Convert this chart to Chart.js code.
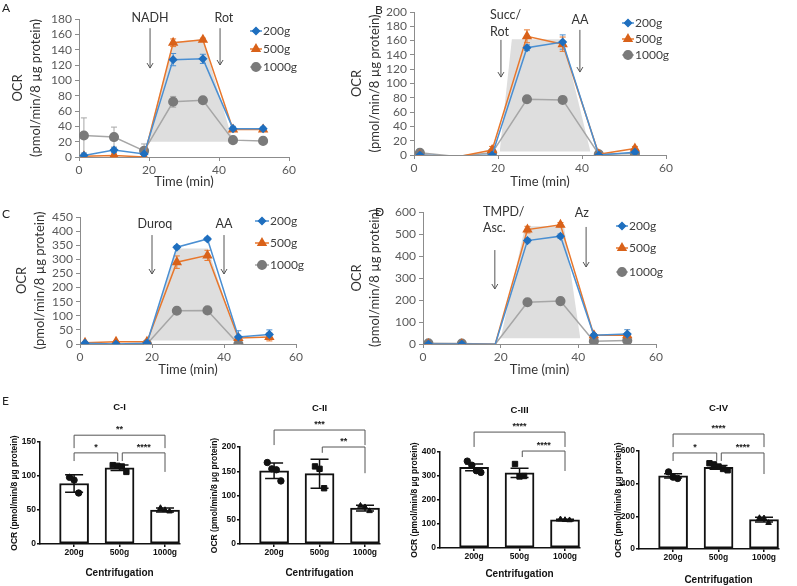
<!DOCTYPE html>
<html>
<head>
<meta charset="utf-8">
<script src="https://cdn.jsdelivr.net/npm/chart.js@4.4.0/dist/chart.umd.min.js"></script>
<style>
    body { margin: 0; background: #fff; }
    #wrap { position: relative; width: 797px; height: 586px; overflow: hidden; }
    canvas { position: absolute; }
    .tag { position: absolute; font: 12px Lato, sans-serif; color: #222; }
</style>
</head>
<body>
<div id="wrap">
    <canvas id="chartA" width="340" height="190" style="left:0;top:0"></canvas>
    <canvas id="chartB" width="457" height="190" style="left:340px;top:0"></canvas>
    <canvas id="chartC" width="340" height="190" style="left:0;top:190px"></canvas>
    <canvas id="chartD" width="457" height="190" style="left:340px;top:190px"></canvas>
    <canvas id="chartE1" width="200" height="201" style="left:0;top:385px"></canvas>
    <canvas id="chartE2" width="200" height="201" style="left:200px;top:385px"></canvas>
    <canvas id="chartE3" width="197" height="201" style="left:400px;top:385px"></canvas>
    <canvas id="chartE4" width="200" height="201" style="left:597px;top:385px"></canvas>
    <div class="tag" style="left:2px;top:0">A</div>
    <div class="tag" style="left:375px;top:2px">B</div>
    <div class="tag" style="left:2px;top:206px">C</div>
    <div class="tag" style="left:375px;top:204px">D</div>
    <div class="tag" style="left:2px;top:393px">E</div>
</div>
<script>
// measurement times (min) and groups
var times = [1.4, 10, 18.6, 26.9, 35.4, 44, 52.6];
var groups = ["200g", "500g", "1000g"];

// A - NADH / Rot
var nadh200 = [2, 9, 4, 127, 128, 37, 37];
var nadh500 = [1, 2, 0, 149, 153, 36, 36];
var nadh1000 = [28, 26, 8, 72, 74, 22, 21];
var nadh200Err = [3, 3, 3, 8, 6, 3, 2];
var nadh500Err = [2, 2, 1, 5, 2, 2, 2];
var nadh1000Err = [23, 13, 9, 7, 3, 4, 3];
var nadhShadeX = [19.5, 26.9, 35.4, 44];
var nadhShadeY = [20, 150, 154, 20];

// B - Succ/Rot / AA
var succ200 = [0, -2, 0, 150, 158, 0, 4];
var succ500 = [0, -3, 7, 166, 155, 1, 9];
var succ1000 = [3, -2, 3, 78, 77, 1, 2];
var succ200Err = [1, 0, 2, 4, 10, 1, 2];
var succ500Err = [1, 0, 5, 9, 10, 1, 3];
var succ1000Err = [2, 0, 2, 2, 2, 1, 1];
var succShadeX = [20.4, 23.3, 35.5, 42];
var succShadeY = [5, 162, 162, 5];

// C - Duroq / AA
var duroq200 = [3, 0, 3, 343, 372, 25, 34];
var duroq500 = [4, 8, 8, 290, 314, 21, 25];
var duroq1000 = [null, null, 0, 118, 119, 0, null];
var duroq200Err = [2, 2, 2, 6, 6, 22, 16];
var duroq500Err = [2, 2, 2, 22, 18, 4, 14];
var duroq1000Err = [0, 0, 2, 6, 6, 2, 0];
var duroqShadeX = [19, 26.9, 35.5, 44];
var duroqShadeY = [12, 338, 338, 12];

// D - TMPD/Asc. / Az
var tmpd200 = [0, 0, -1, 470, 490, 40, 45];
var tmpd500 = [0, 0, -1, 520, 542, 40, 40];
var tmpd1000 = [3, 2, -1, 190, 195, 13, 16];
var tmpd200Err = [2, 2, 0, 10, 10, 8, 20];
var tmpd500Err = [2, 2, 0, 15, 10, 5, 10];
var tmpd1000Err = [2, 2, 0, 8, 8, 4, 4];
var tmpdShadeX = [20, 26.3, 36.3, 40.5];
var tmpdShadeY = [26, 535, 535, 26];

// E - complex activities (mean, SD, replicates)
var ciMean = [89, 112, 50];
var ciSd = [13, 4, 3];
var ci200 = [98, 94, 75];
var ci500 = [116, 115, 114, 106];
var ci1000 = [53, 50, 48];

var ciiMean = [151, 145, 74];
var ciiSd = [16, 30, 6];
var cii200 = [168, 155, 153, 130];
var cii500 = [160, 155, 115];
var cii1000 = [79, 76, 68];

var ciiiMean = [336, 313, 117];
var ciiiSd = [14, 19, 3];
var ciii200 = [362, 345, 322, 315];
var ciii500 = [350, 298, 300];
var ciii1000 = [120, 117, 116];

var civMean = [448, 500, 180];
var civSd = [13, 11, 14];
var civ200 = [472, 440, 432];
var civ500 = [525, 518, 505, 490, 482];
var civ1000 = [190, 188, 160];

// significance brackets: [from, to, y, left end, right end, label]
var ciBrackets = [[0, 2, 160, 141, 141, "**"], [0, 1, 134, 122, 122, "*"], [1, 2, 134, 122, 106, "****"]];
var ciiBrackets = [[0, 2, 235, 204, 204, "***"], [1, 2, 200, 188, 146, "**"]];
var ciiiBrackets = [[0, 2, 483, 421, 421, "****"], [1, 2, 404, 379, 321, "****"]];
var civBrackets = [[0, 2, 704, 624, 624, "****"], [0, 1, 588, 539, 539, "*"], [1, 2, 588, 539, 459, "****"]];

var lineColors = ["#4A8FD2", "#E8772C", "#A6A6A6"];
var markColors = ["#1F6FBF", "#D9621A", "#7A7A7A"];
var markStyles = ["rectRot", "triangle", "circle"];
var markSizes = [3.5, 4.5, 4.3];
var FONT = "Lato, 'Liberation Sans', sans-serif";
var BARFONT = "'Liberation Sans', Arial, sans-serif";

var errorBars = {
    id: "errorBars",
    afterDatasetDraw: function (chart, args) {
        var p = chart.config.options.panel;
        if (args.index !== 3) return;
        var ctx = chart.ctx, y = chart.scales.y;
        ctx.save();
        ctx.lineWidth = 1;
        p.errs.forEach(function (errs, k) {
            var meta = chart.getDatasetMeta(k);
            ctx.strokeStyle = lineColors[k];
            errs.forEach(function (e, i) {
                var v = p.values[k][i];
                if (v == null || !e) return;
                var x = meta.data[i].x;
                var top = y.getPixelForValue(v + e), bot = y.getPixelForValue(Math.max(0, v - e));
                ctx.beginPath();
                ctx.moveTo(x, top); ctx.lineTo(x, bot);
                ctx.moveTo(x - 3, top); ctx.lineTo(x + 3, top);
                ctx.moveTo(x - 3, bot); ctx.lineTo(x + 3, bot);
                ctx.stroke();
            });
        });
        ctx.restore();
    }
};

var lineDeco = {
    id: "lineDeco",
    afterDraw: function (chart) {
        var p = chart.config.options.panel;
        var ctx = chart.ctx, xs = chart.scales.x, ys = chart.scales.y;
        ctx.save();
        // injection annotations
        ctx.fillStyle = "#333";
        ctx.strokeStyle = "#555";
        ctx.lineWidth = 1;
        ctx.font = "12.5px " + FONT;
        ctx.textBaseline = "middle";
        p.notes.forEach(function (n) {
            ctx.textAlign = n.align || "center";
            n.text.forEach(function (t, i) {
                ctx.fillText(t, xs.getPixelForValue(n.tx), ys.getPixelForValue(n.ty[i]));
            });
            var ax = xs.getPixelForValue(n.ax);
            var a0 = ys.getPixelForValue(n.a0), a1 = ys.getPixelForValue(n.a1);
            ctx.beginPath();
            ctx.moveTo(ax, a0); ctx.lineTo(ax, a1);
            ctx.moveTo(ax - 3, a1 - 5); ctx.lineTo(ax, a1); ctx.lineTo(ax + 3, a1 - 5);
            ctx.stroke();
        });
        // legend
        var lg = p.legend;
        ctx.font = "12px " + FONT;
        ctx.textAlign = "left";
        groups.forEach(function (g, k) {
            var yy = lg.ys[k];
            ctx.strokeStyle = lineColors[k];
            ctx.lineWidth = 1.5;
            ctx.beginPath();
            ctx.moveTo(lg.x1, yy); ctx.lineTo(lg.x2, yy);
            ctx.stroke();
            ctx.fillStyle = markColors[k];
            ctx.strokeStyle = markColors[k];
            Chart.helpers.drawPoint(ctx, {pointStyle: markStyles[k], radius: markSizes[k], borderWidth: 1}, (lg.x1 + lg.x2) / 2, yy);
            ctx.fillStyle = "#404040";
            ctx.fillText(g, lg.x2 + 1, yy);
        });
        ctx.restore();
    }
};

function makeLineChart(p) {
    var datasets = p.values.map(function (vals, k) {
        return {
            label: groups[k],
            data: times.map(function (t, i) { return {x: t, y: vals[i]}; }),
            borderColor: lineColors[k],
            backgroundColor: markColors[k],
            pointBorderColor: markColors[k],
            pointBackgroundColor: markColors[k],
            pointStyle: markStyles[k],
            pointRadius: function (c) { return (c.raw && c.raw.y < 0) ? 0 : markSizes[k]; },
            borderWidth: 1.5,
            order: 1
        };
    });
    datasets.push({
        label: "shade",
        data: p.shadeX.map(function (x, i) { return {x: x, y: p.shadeY[i]}; }),
        fill: {value: p.shadeY[0]},
        backgroundColor: "#DEDEDE",
        borderWidth: 0,
        pointRadius: 0,
        order: 10
    });
    var tickFont = {family: FONT, size: 12};
    new Chart(document.getElementById(p.id), {
        type: "line",
        data: {datasets: datasets},
        plugins: [errorBars, lineDeco],
        options: {
            panel: p,
            responsive: false,
            animation: false,
            layout: {padding: {top: p.top, right: p.right, left: 0, bottom: 0}},
            plugins: {legend: {display: false}, tooltip: {enabled: false}},
            scales: {
                x: {
                    type: "linear", min: 0, max: 60,
                    ticks: {stepSize: 20, font: tickFont, color: "#595959", padding: 2, autoSkip: false},
                    grid: {drawOnChartArea: false, drawTicks: true, tickLength: 4, color: "#8C8C8C"},
                    border: {color: "#8C8C8C"},
                    title: {display: true, text: "Time (min)", font: {family: FONT, size: 13}, color: "#333", padding: {top: 0, bottom: p.xtPad}},
                    afterFit: function (s) { s.height = p.xh; }
                },
                y: {
                    min: 0, max: p.max,
                    ticks: {stepSize: p.step, font: tickFont, color: "#595959", padding: 3, autoSkip: false},
                    grid: {drawOnChartArea: false, drawTicks: true, tickLength: 4, color: "#8C8C8C"},
                    border: {color: "#8C8C8C"},
                    title: {display: true, text: ["OCR", "(pmol/min/8 \u00b5g protein)"], font: {family: FONT, size: 13, lineHeight: 1.4}, color: "#333", padding: {top: p.ytPad, bottom: 0}},
                    afterFit: function (s) { s.width = p.left; }
                }
            }
        }
    });
}

makeLineChart({
    id: "chartA", values: [nadh200, nadh500, nadh1000], errs: [nadh200Err, nadh500Err, nadh1000Err],
    shadeX: nadhShadeX, shadeY: nadhShadeY, max: 180, step: 20,
    left: 79, top: 19, right: 51, xh: 33, xtPad: 0, ytPad: 9,
    legend: {x1: 250, x2: 262, ys: [31, 49, 67]},
    notes: [
        {text: ["NADH"], tx: 20.3, ty: [181], ax: 20.3, a0: 168, a1: 116},
        {text: ["Rot"], tx: 41.4, ty: [181], ax: 40.3, a0: 168, a1: 120}
    ]
});
makeLineChart({
    id: "chartB", values: [succ200, succ500, succ1000], errs: [succ200Err, succ500Err, succ1000Err],
    shadeX: succShadeX, shadeY: succShadeY, max: 200, step: 20,
    left: 74, top: 12, right: 131, xh: 35, xtPad: 0, ytPad: 8,
    legend: {x1: 282, x2: 294, ys: [23, 39, 55]},
    notes: [
        {text: ["Succ/", "Rot"], tx: 18.1, ty: [196, 172], align: "left", ax: 20.7, a0: 161, a1: 109},
        {text: ["AA"], tx: 39.5, ty: [189], ax: 39.5, a0: 175, a1: 116}
    ]
});
makeLineChart({
    id: "chartC", values: [duroq200, duroq500, duroq1000], errs: [duroq200Err, duroq500Err, duroq1000Err],
    shadeX: duroqShadeX, shadeY: duroqShadeY, max: 450, step: 50,
    left: 80, top: 27, right: 44, xh: 36, xtPad: 2, ytPad: 13,
    legend: {x1: 255, x2: 269, ys: [31, 53, 75]},
    notes: [
        {text: ["Duroq"], tx: 20.8, ty: [425], ax: 20, a0: 386, a1: 248},
        {text: ["AA"], tx: 40, ty: [425], ax: 40, a0: 386, a1: 248}
    ]
});
makeLineChart({
    id: "chartD", values: [tmpd200, tmpd500, tmpd1000], errs: [tmpd200Err, tmpd500Err, tmpd1000Err],
    shadeX: tmpdShadeX, shadeY: tmpdShadeY, max: 600, step: 100,
    left: 83, top: 22, right: 141, xh: 36, xtPad: 2, ytPad: 8,
    legend: {x1: 276, x2: 288, ys: [36, 58, 82]},
    notes: [
        {text: ["TMPD/", "Asc."], tx: 15.45, ty: [600, 527], align: "left", ax: 18.5, a0: 427, a1: 250},
        {text: ["Az"], tx: 40.9, ty: [595], ax: 42, a0: 532, a1: 350}
    ]
});

var barShapes = ["circle", "rect", "triangle"];

var barDeco = {
    id: "barDeco",
    afterDatasetsDraw: function (chart) {
        var p = chart.config.options.panel;
        var ctx = chart.ctx, xs = chart.scales.x, ys = chart.scales.y;
        ctx.save();
        // error bars (mean +/- SD)
        ctx.strokeStyle = "#111";
        ctx.lineWidth = 1.5;
        p.mean.forEach(function (m, i) {
            var x = xs.getPixelForValue(i);
            var top = ys.getPixelForValue(m + p.sd[i]), bot = ys.getPixelForValue(m - p.sd[i]);
            ctx.beginPath();
            ctx.moveTo(x, top); ctx.lineTo(x, bot);
            ctx.moveTo(x - 9, top); ctx.lineTo(x + 9, top);
            ctx.moveTo(x - 9, bot); ctx.lineTo(x + 9, bot);
            ctx.stroke();
        });
        // significance brackets
        ctx.strokeStyle = "#555";
        ctx.lineWidth = 1;
        ctx.fillStyle = "#222";
        ctx.font = "bold 9px " + BARFONT;
        ctx.textAlign = "center";
        ctx.textBaseline = "bottom";
        p.brackets.forEach(function (b) {
            var a = b[0], c = b[1];
            if (c - a === 1) {
                if (a === 1) a += 0.06;
                if (c === 1) c -= 0.04;
            }
            var x0 = xs.getPixelForValue(a), x1 = xs.getPixelForValue(c);
            var y = ys.getPixelForValue(b[2]);
            ctx.beginPath();
            ctx.moveTo(x0, ys.getPixelForValue(b[3]));
            ctx.lineTo(x0, y); ctx.lineTo(x1, y);
            ctx.lineTo(x1, ys.getPixelForValue(b[4]));
            ctx.stroke();
            ctx.fillText(b[5], (x0 + x1) / 2, y - 1);
        });
        // panel title and x-axis title
        ctx.fillStyle = "#111";
        ctx.textBaseline = "middle";
        ctx.font = "bold 9.5px " + BARFONT;
        ctx.fillText(p.title, xs.getPixelForValue(1), p.titleY);
        ctx.font = "bold 10px " + BARFONT;
        ctx.fillText("Centrifugation", xs.getPixelForValue(1), p.xlabY);
        ctx.restore();
    }
};

function makeBarChart(p) {
    var datasets = [{
        type: "bar",
        data: p.mean.map(function (m, i) { return {x: i, y: m}; }),
        backgroundColor: "#fff",
        borderColor: "#111",
        borderWidth: 2,
        borderSkipped: false,
        barThickness: 29,
        order: 3
    }];
    p.points.forEach(function (vals, i) {
        datasets.push({
            type: "scatter",
            data: vals.map(function (v, j) { return {x: i + (j - (vals.length - 1) / 2) * 0.1, y: v}; }),
            pointStyle: barShapes[i],
            pointRadius: barShapes[i] === "rect" ? 3.8 : 3.2,
            backgroundColor: "#111",
            borderColor: "#111",
            order: 1
        });
    });
    var tickFont = {family: BARFONT, size: 8.5, weight: "bold"};
    new Chart(document.getElementById(p.id), {
        type: "bar",
        data: {datasets: datasets},
        plugins: [barDeco],
        options: {
            panel: p,
            responsive: false,
            animation: false,
            layout: {padding: {top: p.top, right: p.right, left: 0, bottom: 0}},
            plugins: {legend: {display: false}, tooltip: {enabled: false}},
            scales: {
                x: {
                    type: "linear", min: -0.75, max: 2.33, offset: false,
                    afterBuildTicks: function (s) { s.ticks = groups.map(function (g, i) { return {value: i}; }); },
                    ticks: {callback: function (v) { return groups[v]; }, font: tickFont, color: "#111", padding: 1, maxRotation: 0, autoSkip: false},
                    grid: {offset: false, drawOnChartArea: false, drawTicks: true, tickLength: 3, color: "#111", lineWidth: 1.5},
                    border: {color: "#111", width: 1.5},
                    afterFit: function (s) { s.height = p.xh; }
                },
                y: {
                    min: 0, max: p.max,
                    ticks: {stepSize: p.step, font: tickFont, color: "#111", padding: 1, autoSkip: false},
                    grid: {drawOnChartArea: false, drawTicks: true, tickLength: 3, color: "#111", lineWidth: 1.5},
                    border: {color: "#111", width: 1.5},
                    title: {display: true, text: "OCR (pmol/min/8 \u00b5g protein)", font: {family: BARFONT, size: 8.5, weight: "bold", lineHeight: 1.2}, color: "#111", padding: {top: p.ytPad, bottom: 0}},
                    afterFit: function (s) { s.width = p.left; }
                }
            }
        }
    });
}

makeBarChart({id: "chartE1", title: "C-I", mean: ciMean, sd: ciSd, points: [ci200, ci500, ci1000], brackets: ciBrackets,
    max: 150, step: 50, left: 40, top: 57, right: 20, xh: 42, titleY: 22, xlabY: 188, ytPad: 10});
makeBarChart({id: "chartE2", title: "C-II", mean: ciiMean, sd: ciiSd, points: [cii200, cii500, cii1000], brackets: ciiBrackets,
    max: 200, step: 50, left: 40, top: 62, right: 20, xh: 42, titleY: 23, xlabY: 188, ytPad: 10});
makeBarChart({id: "chartE3", title: "C-III", mean: ciiiMean, sd: ciiiSd, points: [ciii200, ciii500, ciii1000], brackets: ciiiBrackets,
    max: 400, step: 100, left: 40, top: 67, right: 17, xh: 38, titleY: 25, xlabY: 189, ytPad: 10});
makeBarChart({id: "chartE4", title: "C-IV", mean: civMean, sd: civSd, points: [civ200, civ500, civ1000], brackets: civBrackets,
    max: 600, step: 200, left: 42, top: 66, right: 18, xh: 37, titleY: 23, xlabY: 195, ytPad: 17});
</script>
</body>
</html>
